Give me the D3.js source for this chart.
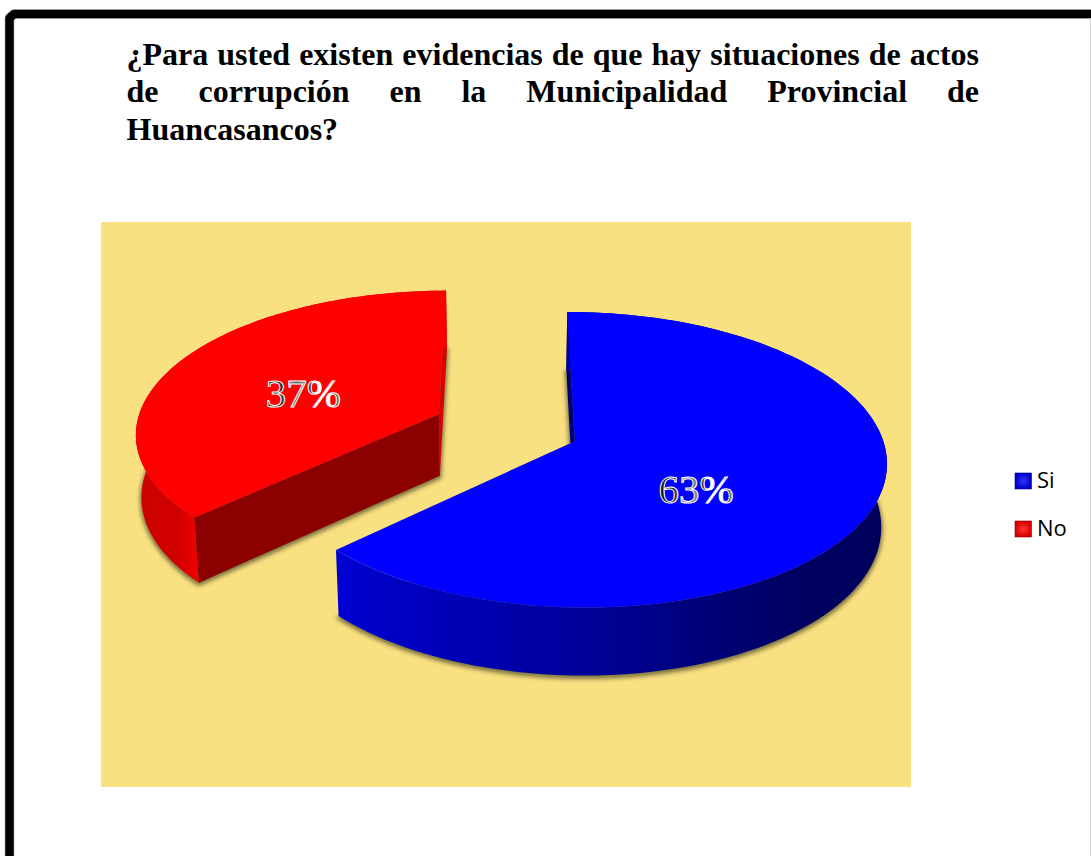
<!DOCTYPE html>
<html>
<head>
<meta charset="utf-8">
<script src="https://cdn.jsdelivr.net/npm/d3@7"></script>
<style>
	html, body { margin: 0; padding: 0; background: #fff; overflow: hidden; }
</style>
</head>
<body>
<div id="vis"></div>
<script>
// Chart data
const CATEGORIES = ["Si", "No"];
const VALUES = [63, 37];
const LABELS = ["63%", "37%"];
const TITLE_LINES = [
	"¿Para usted existen evidencias de que hay situaciones de actos",
	"de corrupción en la Municipalidad Provincial de",
	"Huancasancos?"
];

const WIDTH = 1091;
const HEIGHT = 856;
const PLOT = {left: 101, top: 222, width: 810, height: 565};
const TITLE = {left: 126.5, width: 852.5, first: 64.5, step: 37.5};

// Colours of each slice: top face, outer wall, cut faces
const TOP_COLOR = {Si: "#0000ff", No: "#ff0000"};
const BACK_COLOR = {Si: "#000070", No: "#d80000"};
const CUT_COLOR = {Si: "#000090", No: "#8b0000"};
const WALL_STOPS = {
	Si: [[0, "#0000d2"], [0.5, "#000092"], [0.85, "#000060"], [1, "#00005c"]],
	No: [[0, "#cc0000"], [0.14, "#d20000"], [0.2, "#f60000"], [1, "#f60000"]]
};

// Perspective of the pie, tilted away from the viewer
const CX = 505, CY = 427.5;      // pie centre before exploding
const RX = 304, RY = 142;        // radius on the screen
const TILT = 0.124, SIDE = 0.002; // perspective strength
const DEPTH = 62;                // thickness of the pie
const EXPLODE = 0.24;
const NUDGE = {Si: 2, No: 0};    // small sideways fix per slice

function project(u, v, lower) {
	const w = 1 - TILT * v - SIDE * u;
	const s = lower ? 0.985 : 1;
	const drop = lower ? DEPTH / (1 - 0.08 * v) : 0;
	return [CX + RX * s * u / w, CY + RY * v / w + drop];
}

const svg = d3.select("#vis")
	.append("svg")
		.attr("width", WIDTH)
		.attr("height", HEIGHT)
		.style("display", "block");

const defs = svg.append("defs");

defs.append("filter")
		.attr("id", "shadow")
		.attr("x", "-10%").attr("y", "-10%")
		.attr("width", "120%").attr("height", "120%")
	.append("feGaussianBlur")
		.attr("stdDeviation", 2);

// Frame, only top and left sides are on the page
const FRAME_PATH = d3.line()([[WIDTH + 5, 14], [14, 14], [9.5, 18], [9.5, HEIGHT + 5]]);
svg.append("path")
	.attr("d", FRAME_PATH)
	.attr("fill", "none")
	.attr("stroke", "#c8c8c8")
	.attr("stroke-width", 10)
	.attr("stroke-linejoin", "round");
svg.append("path")
	.attr("d", FRAME_PATH)
	.attr("fill", "none")
	.attr("stroke", "#000")
	.attr("stroke-width", 8.5)
	.attr("stroke-linejoin", "round");
svg.append("rect")
	.attr("x", WIDTH - 1).attr("y", 18)
	.attr("width", 1).attr("height", HEIGHT)
	.attr("fill", "#d0d0d0");

// Title, justified by hand
svg.selectAll("text.title")
	.data(TITLE_LINES)
	.enter()
	.append("text")
		.attr("class", "title")
		.attr("x", TITLE.left)
		.attr("y", (d, i) => TITLE.first + i * TITLE.step)
		.attr("font-family", "'Liberation Serif', serif")
		.attr("font-weight", "bold")
		.attr("font-size", 32)
		.attr("fill", "#000")
		.text((d) => d)
		.each(function (d, i) {
			if (i < TITLE_LINES.length - 1) {
				const gaps = d.split(" ").length - 1;
				const extra = (TITLE.width - this.getComputedTextLength()) / gaps;
				d3.select(this).attr("word-spacing", extra);
			}
		});

svg.append("rect")
	.attr("x", PLOT.left)
	.attr("y", PLOT.top)
	.attr("width", PLOT.width)
	.attr("height", PLOT.height)
	.attr("fill", "#f9e081");

// Slices
const pie = d3.pie().sort(null).value((d) => d.value);
const slices = pie(CATEGORIES.map((c, i) => ({name: c, value: VALUES[i], label: LABELS[i]})));
const line = d3.line();

function gradient(id, stops) {
	const g = defs.append("linearGradient").attr("id", id)
		.attr("x1", "0%").attr("x2", "100%")
		.attr("y1", "0%").attr("y2", "0%");
	stops.forEach((s) => {
		g.append("stop").attr("offset", s[0]).attr("stop-color", s[1]);
	});
}

// draw No first so that it sits behind Si
slices.slice().reverse().forEach((d) => {
	const name = d.data.name;
	const mid = (d.startAngle + d.endAngle) / 2;
	const ou = EXPLODE * Math.sin(mid);
	const ov = -EXPLODE * Math.cos(mid);
	const rim = (lower) => d3.range(0, 121).map((i) => {
		const a = d.startAngle + (d.endAngle - d.startAngle) * i / 120;
		return project(ou + Math.sin(a), ov - Math.cos(a), lower);
	});
	const apex = (lower) => project(ou, ov, lower);
	const topRim = rim(false);
	const lowRim = rim(true);
	const g = svg.append("g")
		.attr("class", "slice-" + name)
		.attr("transform", "translate(" + NUDGE[name] + ",0)");

	gradient("wall" + name, WALL_STOPS[name]);

	// soft shadow under the slice
	g.append("path")
		.attr("d", line([apex(true)].concat(lowRim)) + "Z")
		.attr("transform", "translate(0,2)")
		.attr("fill", "#7f7440")
		.attr("stroke", "#7f7440")
		.attr("stroke-width", 3)
		.attr("filter", "url(#shadow)");

	// back cut face (angle 0 / 360)
	const backIdx = name == "Si" ? 0 : 120;
	g.append("path")
		.attr("d", line([topRim[backIdx], lowRim[backIdx], apex(true), apex(false)]) + "Z")
		.attr("fill", BACK_COLOR[name]);

	// outer wall
	g.append("path")
		.attr("d", line(topRim.concat(lowRim.slice().reverse())) + "Z")
		.attr("fill", "url(#wall" + name + ")");

	// front cut face, only seen on No
	if (name == "No") {
		g.append("path")
			.attr("d", line([topRim[0], lowRim[0], apex(true), apex(false)]) + "Z")
			.attr("fill", CUT_COLOR[name]);
	}

	// top face
	g.append("path")
		.attr("d", line([apex(false)].concat(topRim)) + "Z")
		.attr("fill", TOP_COLOR[name]);
});

// Value labels, white outline with a striped inside
gradient("labelFill", [
	[0, "#111"], [0.2, "#222"], [0.3, "#999"], [0.42, "#555"],
	[0.5, "#888"], [0.6, "#333"], [0.68, "#fff"], [0.85, "#fff"], [0.92, "#222"], [1, "#bbb"]
]);
const LABEL_POS = {Si: [0.589, 0.5], No: [-0.677, -0.15]};
svg.selectAll("text.value")
	.data(slices)
	.enter()
	.append("text")
		.attr("class", "value")
		.attr("x", (d) => project(LABEL_POS[d.data.name][0], LABEL_POS[d.data.name][1])[0])
		.attr("y", (d) => project(LABEL_POS[d.data.name][0], LABEL_POS[d.data.name][1])[1])
		.attr("text-anchor", "middle")
		.attr("font-family", "'Liberation Serif', serif")
		.attr("font-size", 41)
		.attr("fill", "url(#labelFill)")
		.attr("stroke", "#fff")
		.attr("stroke-width", 1)
		.text((d) => d.data.label);

// Legend
const LEGEND_Y = d3.scalePoint().domain(CATEGORIES).range([473, 521]);
const legend = svg.selectAll("g.legend")
	.data(CATEGORIES)
	.enter()
	.append("g")
		.attr("class", "legend")
		.attr("transform", (d) => "translate(1015," + LEGEND_Y(d) + ")");

CATEGORIES.forEach((c) => {
	const r = defs.append("radialGradient").attr("id", "key" + c);
	r.append("stop").attr("offset", "0%").attr("stop-color", c == "Si" ? "#3434ff" : "#ff3434");
	r.append("stop").attr("offset", "100%").attr("stop-color", c == "Si" ? "#0000c4" : "#d40000");
});
legend.append("rect")
	.attr("width", 16.5)
	.attr("height", 16)
	.attr("fill", (d) => "url(#key" + d + ")")
	.attr("stroke", (d) => d == "Si" ? "#000090" : "#900000")
	.attr("stroke-width", 0.6);
legend.append("text")
	.attr("x", 22)
	.attr("y", 15)
	.attr("font-family", "'Open Sans', sans-serif")
	.attr("font-size", 22)
	.attr("fill", "#000")
	.text((d) => d);
</script>
</body>
</html>
